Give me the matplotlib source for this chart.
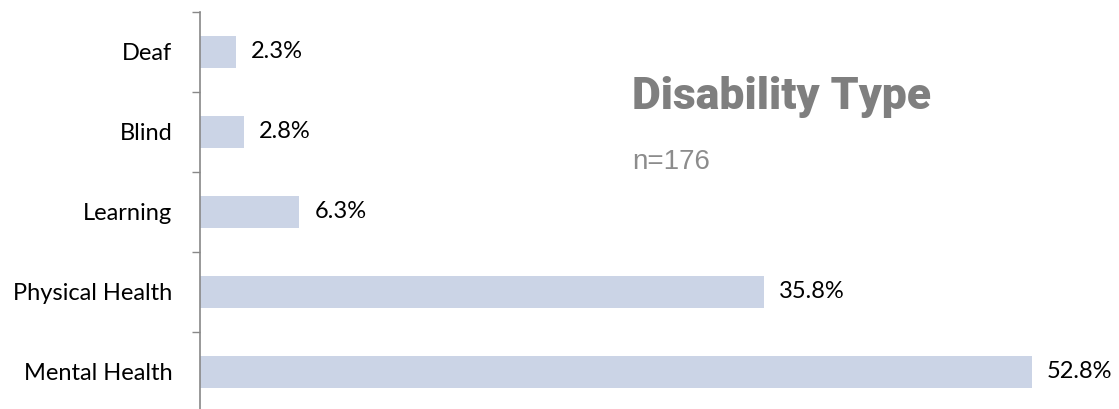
import matplotlib
matplotlib.use("Agg")
import matplotlib.pyplot as plt
from matplotlib.ticker import FixedLocator, NullLocator
from matplotlib.transforms import offset_copy

categories = ["Mental Health", "Physical Health", "Learning", "Blind", "Deaf"]
values = [52.8, 35.8, 6.3, 2.8, 2.3]
title = "Disability Type"
subtitle = "n=176"

plt.rcParams["font.family"] = ["Lato", "DejaVu Sans"]

fig = plt.figure(figsize=(11.19, 4.09), dpi=100)
ax = fig.add_axes([200 / 1119, -3 / 409, 914 / 1119, 400 / 409])

pos = list(range(len(categories)))
ax.barh(pos, values, height=0.4, color="#cbd4e6")
ax.set_xlim(0, 58)
ax.set_ylim(-0.5, len(categories) - 0.5)

ax.set_yticks(pos)
ax.set_yticklabels(categories, fontsize=17, color="black")
ax.tick_params(axis="y", which="major", length=0, pad=20)
ax.yaxis.set_minor_locator(FixedLocator([p + 0.5 for p in pos]))
ax.tick_params(axis="y", which="minor", length=6, color="#888888", width=1)
ax.xaxis.set_major_locator(NullLocator())

for s in ["top", "right", "bottom"]:
    ax.spines[s].set_visible(False)
ax.spines["left"].set_color("#888888")
ax.spines["left"].set_linewidth(1.2)

tr = offset_copy(ax.transData, fig=fig, x=15, y=0, units="dots")
for p, v in zip(pos, values):
    ax.text(v, p, f"{v:.1f}%", transform=tr, va="center", ha="left",
            fontsize=17, color="black")

fig.text(632 / 1119, 1 - 97 / 409, title, fontsize=32, fontweight="heavy",
         color="#7f7f7f", family=["Roboto", "DejaVu Sans"], va="center", ha="left")
fig.text(632 / 1119, 1 - 162 / 409, subtitle, fontsize=20,
         color="#8c8c8c", family=["Liberation Sans", "DejaVu Sans"], va="center", ha="left")

fig.savefig("out.png", dpi=100)
